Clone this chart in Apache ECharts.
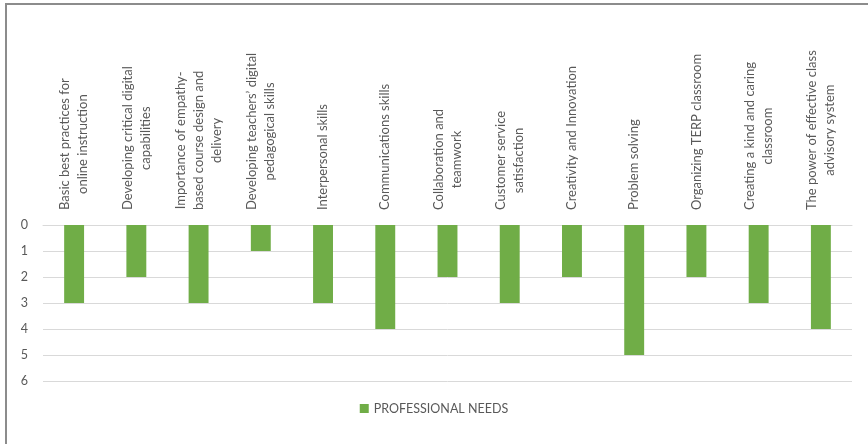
<!DOCTYPE html>
<html>
<head>
<meta charset="utf-8">
<script src="https://cdn.jsdelivr.net/npm/echarts@6/dist/echarts.min.js"></script>
<style>
html,body{margin:0;padding:0;background:#fff;}
#frame{position:absolute;left:5px;top:3px;width:870px;height:450px;border-left:2px solid #8c8c8c;border-top:2px solid #8c8c8c;box-sizing:border-box;}
#chart{position:absolute;left:0;top:0;width:868px;height:444px;}
</style>
</head>
<body>
<div id="frame"></div>
<div id="chart"></div>
<script>
const categories = [
  "Basic best practices for\nonline instruction",
  "Developing critical digital\ncapabilities",
  "Importance of empathy-\nbased course design and\ndelivery",
  "Developing teachers\u2019 digital\npedagogical skills",
  "Interpersonal skills",
  "Communications skills",
  "Collaboration and\nteamwork",
  "Customer service\nsatisfaction",
  "Creativity and Innovation",
  "Problem solving",
  "Organizing TERP classroom",
  "Creating a kind and caring\nclassroom",
  "The power of effective class\nadvisory system"
];
const seriesName = "PROFESSIONAL NEEDS";
const professionalNeeds = [3, 2, 3, 1, 3, 4, 2, 3, 2, 5, 2, 3, 4];

const FONT = "Lato";
const TXT = "#595959";
const chart = echarts.init(document.getElementById('chart'), null, {renderer: 'canvas'});
chart.setOption({
  animation: false,
  backgroundColor: 'transparent',
  grid: {left: 43, right: 16, top: 225, bottom: 63, containLabel: false},
  legend: {
    bottom: 24, left: 'center',
    itemWidth: 9, itemHeight: 9, itemGap: 5,
    icon: 'rect',
    textStyle: {color: TXT, fontFamily: FONT, fontSize: 12.5},
    data: [seriesName]
  },
  xAxis: {
    type: 'category',
    position: 'top',
    data: categories,
    axisLine: {show: true, lineStyle: {color: '#d9d9d9', width: 1}},
    axisTick: {show: false},
    axisLabel: {
      interval: 0,
      rotate: 90,
      margin: 15,
      hideOverlap: false,
      color: TXT,
      fontFamily: FONT,
      fontSize: 13,
      lineHeight: 18,
      formatter: function (v) {
        return v.split('\n').map(s => '{c|' + s + '}').join('\n');
      },
      rich: {c: {align: 'center', color: TXT, fontFamily: FONT, fontSize: 13, lineHeight: 18}}
    }
  },
  yAxis: {
    type: 'value',
    inverse: true,
    min: 0, max: 6, interval: 1,
    axisLine: {show: false},
    axisTick: {show: false},
    splitLine: {lineStyle: {color: '#d9d9d9', width: 1}},
    axisLabel: {color: TXT, fontFamily: FONT, fontSize: 12.5, margin: 15}
  },
  series: [{
    name: seriesName,
    type: 'bar',
    data: professionalNeeds,
    barWidth: '32%',
    itemStyle: {color: '#70ad47'}
  }]
});
</script>
</body>
</html>
